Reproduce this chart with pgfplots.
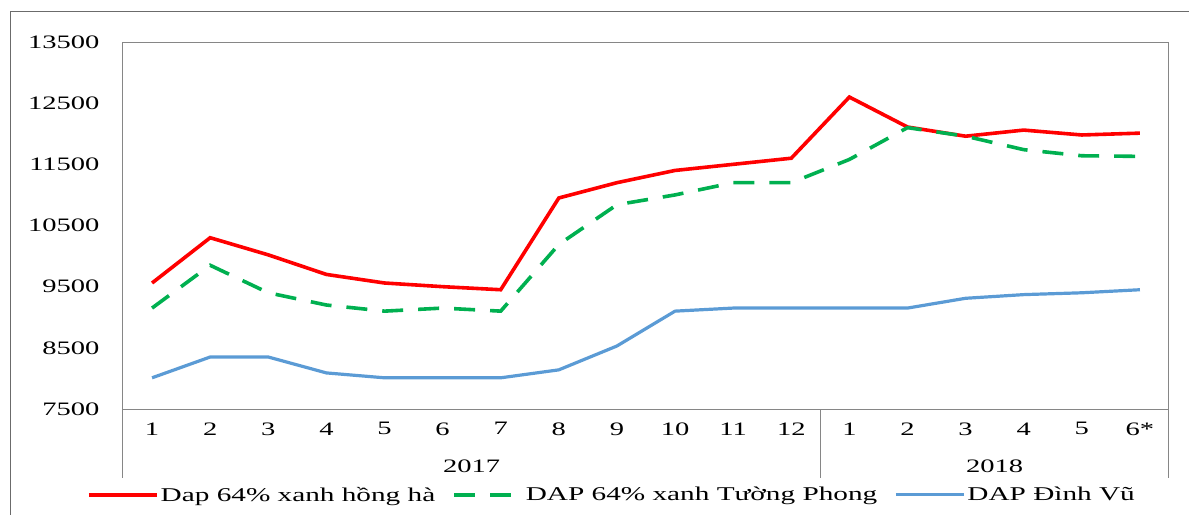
\documentclass[border=0pt]{standalone}
\usepackage{fontspec}
\setmainfont{Liberation Serif}[FakeStretch=1.5]
\usepackage{pgfplots}
\pgfplotsset{compat=1.18}
\definecolor{redline}{HTML}{FF0000}
\definecolor{greenline}{HTML}{00B050}
\definecolor{blueline}{HTML}{5B9BD5}
\definecolor{axgray}{HTML}{868686}

\begin{document}
\begin{tikzpicture}
% outer frame (only top and left edges are visible in the crop)
\draw[axgray!80!black, line width=1pt] (-113bp,-106bp) -- (-113bp,397bp) -- (1066bp,397bp);
\begin{axis}[
    scale only axis,
    width=1046bp, height=367bp,
    xmin=0.5, xmax=18.5,
    ymin=7500, ymax=13500,
    xtick={1,...,18},
    xticklabels={1,2,3,4,5,6,7,8,9,10,11,12,1,2,3,4,5,6*},
    ytick={7500,8500,9500,10500,11500,12500,13500},
    yticklabels={7500,8500,9500,10500,11500,12500,13500},
    scaled y ticks=false,
    major tick length=0pt,
    axis line style={axgray, line width=1pt},
    tick label style={font=\fontsize{19bp}{22bp}\selectfont},
    xticklabel style={yshift=-10bp},
    yticklabel style={xshift=-20bp},
    clip=false,
    legend columns=3,
    legend style={at={(0.4675,-0.234)}, anchor=center, draw=none,
        font=\fontsize{19.5bp}{23bp}\selectfont,
        /tikz/every even column/.append style={column sep=15bp}},
    legend image code/.code={\draw[#1, line cap=butt] (0bp,0bp) -- (68bp,0bp);},
]
\addplot[redline, line width=3.6bp] coordinates {
    (1,9560) (2,10300) (3,10020) (4,9700) (5,9560) (6,9500) (7,9450)
    (8,10950) (9,11200) (10,11400) (11,11500) (12,11600)
    (13,12600) (14,12110) (15,11960) (16,12060) (17,11980) (18,12010)
};
\addlegendentry{Dap 64\% xanh hồng hà}
\addplot[greenline, line width=3.6bp, dash pattern=on 21bp off 15bp] coordinates {
    (1,9150) (2,9850) (3,9400) (4,9200) (5,9100) (6,9150) (7,9100)
    (8,10190) (9,10840) (10,11000) (11,11200) (12,11200)
    (13,11580) (14,12100) (15,11960) (16,11740) (17,11640) (18,11630)
};
\addlegendentry{DAP 64\% xanh Tường Phong}
\addplot[blueline, line width=3.2bp] coordinates {
    (1,8010) (2,8350) (3,8350) (4,8090) (5,8010) (6,8010) (7,8010)
    (8,8140) (9,8530) (10,9100) (11,9150) (12,9150)
    (13,9150) (14,9150) (15,9310) (16,9370) (17,9400) (18,9450)
};
\addlegendentry{DAP Đình Vũ}
% group separators below the x axis
\draw[axgray, line width=1pt] (axis cs:0.5,7500) -- ([yshift=-69bp]axis cs:0.5,7500);
\draw[axgray, line width=1pt] (axis cs:12.5,7500) -- ([yshift=-69bp]axis cs:12.5,7500);
\draw[axgray, line width=1pt] (axis cs:18.5,7500) -- ([yshift=-69bp]axis cs:18.5,7500);
\node[font=\fontsize{19bp}{22bp}\selectfont] at ([yshift=-57bp]axis cs:6.5,7500) {2017};
\node[font=\fontsize{19bp}{22bp}\selectfont] at ([yshift=-57bp]axis cs:15.5,7500) {2018};
\end{axis}
\pgfresetboundingbox
\useasboundingbox (-123bp,-106bp) rectangle (1066bp,409bp);
\end{tikzpicture}
\end{document}
